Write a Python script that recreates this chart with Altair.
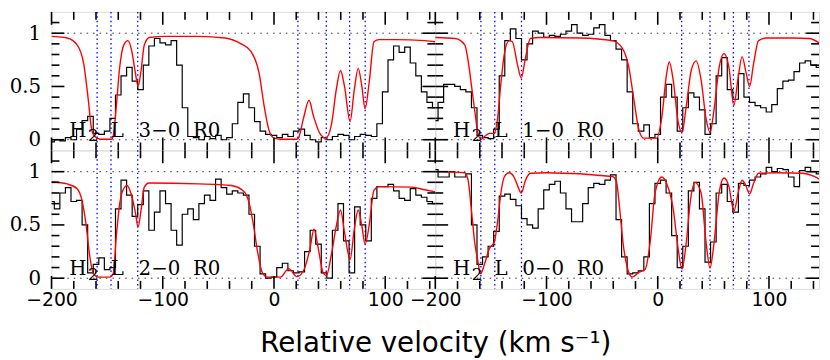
import altair as alt
import pandas as pd

# ---------------- data ----------------
VEL = [-200, -195, -190, -185, -180, -175, -170, -165, -160, -155,
       -150, -145, -140, -135, -130, -125, -120, -115, -110, -105,
       -100, -95, -90, -85, -80, -75, -70, -65, -60, -55,
       -50, -45, -40, -35, -30, -25, -20, -15, -10, -5,
       0, 5, 10, 15, 20, 25, 30, 35, 40, 45,
       50, 55, 60, 65, 70, 75, 80, 85, 90, 95,
       100, 105, 110, 115, 120, 125, 130, 135, 140, 145]

TL_OBS = [-0.02, 0.0, -0.01, 0.02, 0.0, 0.1, 0.18, 0.22, 0.06, 0.05,
          0.08, 0.2, 0.42, 0.6, 0.68, 0.55, 0.47, 0.7, 0.88, 0.95,
          0.91, 0.89, 0.93, 0.7, 0.3, 0.03, 0.02, 0.0, 0.03, 0.01,
          0.04, 0.0, 0.02, 0.15, 0.35, 0.43, 0.3, 0.17, 0.08, 0.05,
          0.04, 0.02, 0.05, 0.03, 0.08, 0.1, 0.04, 0.0, -0.02, 0.02,
          0.0, 0.03, 0.05, 0.04, 0.0, 0.03, 0.05, 0.04, 0.03, 0.15,
          0.45, 0.75, 0.88, 0.82, 0.87, 0.72, 0.6, 0.45, 0.35, 0.3]

TR_OBS = [0.18, 0.35, 0.52, 0.52, 0.5, 0.47, 0.45, 0.3, 0.04, 0.02,
          0.01, 0.1, 0.6, 0.93, 1.04, 0.95, 0.75, 0.9, 1.02, 1.0,
          0.96, 0.98, 0.97, 0.99, 1.02, 1.08, 1.0, 0.98, 0.99, 1.05,
          1.08, 0.98, 0.93, 0.85, 0.75, 0.45, 0.15, 0.08, 0.14, 0.02,
          0.05, 0.4, 0.52, 0.4, 0.08, 0.3, 0.44, 0.4, 0.28, 0.05,
          0.15, 0.6, 0.77, 0.47, 0.38, 0.62, 0.4, 0.35, 0.32, 0.3,
          0.26, 0.33, 0.48, 0.55, 0.56, 0.64, 0.72, 0.74, 0.7, 0.68]

BL_OBS = [0.72, 0.65, 0.8, 0.85, 0.72, 0.73, 0.5, 0.05, 0.13, 0.19,
          0.08, 0.1, 0.65, 0.92, 0.78, 0.58, 0.69, 0.82, 0.45, 0.62,
          0.82, 0.7, 0.45, 0.31, 0.6, 0.65, 0.55, 0.7, 0.78, 0.73,
          0.93, 0.85, 0.79, 0.82, 0.8, 0.78, 0.6, 0.3, 0.04, 0.0,
          0.01, 0.1, 0.14, 0.07, 0.05, 0.06, 0.25, 0.45, 0.32, 0.05,
          0.0, 0.45, 0.7, 0.35, 0.05, 0.67, 0.5, 0.35, 0.75, 0.86,
          0.86, 0.88, 0.82, 0.75, 0.73, 0.84, 0.78, 0.76, 0.72, 0.7]

BR_OBS = [1.02, 0.95, 0.95, 1.0, 0.95, 0.95, 0.98, 0.5, 0.13, 0.2,
          0.3, 0.44, 0.77, 0.79, 0.74, 0.68, 0.56, 0.5, 0.47, 0.65,
          0.83, 0.88, 0.91, 0.8, 0.65, 0.53, 0.53, 0.7, 0.85, 0.89,
          0.88, 0.92, 0.97, 0.55, 0.2, 0.04, 0.05, 0.07, 0.2, 0.7,
          0.89, 0.92, 0.8, 0.4, 0.1, 0.3, 0.82, 0.9, 0.65, 0.15,
          0.34, 0.8, 0.88, 0.72, 0.62, 0.89, 0.87, 0.92, 0.95, 0.98,
          1.04, 1.0, 1.03, 1.02, 0.95, 0.86, 1.01, 1.04, 1.0, 0.98]

TL_MV = [-200, -186, -177, -171, -167, -164, -161, -156, -146, -144.6, -141.7, -138.7, -135,
         -131.3, -127.8, -124.5, -122.2, -119.5, -116.6, -112, -97, -68, -44, -29.6, -20.7,
         -13.3, -8.9, -4.5, 0, 6, 20.6, 22, 26.5, 31.5, 35.3, 41.2, 46.5, 51.6, 56, 59.8,
         63.4, 68.4, 72.2, 75.7, 79, 81.9, 85.5, 89.9, 94.3, 109, 135.6, 145]
TL_MF = [0.97, 0.955, 0.89, 0.71, 0.38, 0.1, 0.03, 0.005, 0.005, 0.03, 0.32, 0.68, 0.89,
         0.93, 0.83, 0.62, 0.5, 0.65, 0.89, 0.96, 0.97, 0.97, 0.955, 0.9, 0.83,
         0.62, 0.32, 0.09, 0.015, 0.005, 0.005, 0.015, 0.2, 0.37, 0.23, 0.06, 0.015, 0.14, 0.47, 0.65,
         0.5, 0.17, 0.47, 0.67, 0.5, 0.29, 0.53, 0.92, 0.94, 0.94, 0.93, 0.92]

TR_MV = [-200, -182, -173.5, -170, -167, -164, -161.7, -158.7, -155.8, -151.3, -146.9, -144,
         -141, -138, -133.6, -130.7, -126.2, -122.7, -118.9, -114.5, -105.6, -70, -40.7, -31.9,
         -26, -21.5, -17.1, -12.7, -0.9, 3.5, 8, 10.3, 13.9, 18.3, 21.8, 25.7, 30.1, 34.5, 39,
         43.4, 47, 50.7, 55.2, 59.6, 64, 68.4, 72, 75.8, 79.6, 82.6, 86.1, 90.6, 97.9, 121.5,
         136.3, 145]
TR_MF = [0.96, 0.95, 0.89, 0.71, 0.47, 0.23, 0.06, 0.005, 0.03, 0.06, 0.06, 0.2,
         0.53, 0.8, 0.93, 0.92, 0.71, 0.58, 0.77, 0.95, 0.96, 0.955, 0.93, 0.86,
         0.68, 0.38, 0.1, 0.015, 0.015, 0.2, 0.62, 0.73, 0.56, 0.17, 0.07, 0.32, 0.65, 0.74, 0.56,
         0.2, 0.07, 0.29, 0.68, 0.81, 0.68, 0.32, 0.56, 0.78, 0.62, 0.5, 0.71, 0.93, 0.955, 0.955,
         0.95, 0.91]

BL_MV = [-200, -186, -177, -172.6, -168.8, -165.8, -162.3, -157.9, -147.6, -144.6, -141.7,
         -138.7, -135.2, -132.2, -128.4, -124.5, -122.2, -119.5, -116.6, -112.2, -68, -38.4,
         -26.6, -22.2, -18.3, -14.8, -10.4, -5.9, 5.8, 13.2, 20.6, 26.5, 32.4, 35.9, 39.8, 44.2,
         47.1, 51.6, 56, 59.8, 63.4, 68.4, 72.2, 75.7, 79, 81.9, 85.5, 89.9, 94.3, 123.8, 135.6, 145]
BL_MF = [0.906, 0.885, 0.84, 0.73, 0.49, 0.22, 0.04, 0.01, 0.01, 0.04, 0.4,
         0.7, 0.84, 0.87, 0.79, 0.61, 0.48, 0.64, 0.855, 0.894, 0.885, 0.87,
         0.81, 0.7, 0.49, 0.25, 0.05, 0.01, 0.01, 0.09, 0.015, 0.07, 0.28, 0.46, 0.28, 0.05,
         0.025, 0.22, 0.49, 0.64, 0.43, 0.175, 0.46, 0.64, 0.49, 0.32, 0.49, 0.825, 0.86, 0.855, 0.83, 0.81]

BR_MV = [-200, -173.5, -170.5, -167.6, -164.6, -161.7, -159.3, -155.8, -151.3, -146.9, -144,
         -141, -138, -133.6, -129.2, -125.7, -122.7, -118.9, -114.5, -99.7, -40.7, -37.2, -34.2,
         -31.3, -27.4, -23, -17.1, -11.2, -6.8, -2.4, 3.5, 8, 13.9, 18.3, 21.8, 25.7, 29.5, 33.6,
         39, 43.4, 47, 50.7, 55.2, 59.6, 64, 68.4, 72.9, 75.8, 78.8, 82.6, 86.1, 90.6, 106.8,
         130.4, 140.7, 145]
BR_MF = [1.0, 0.99, 0.92, 0.65, 0.34, 0.16, 0.04, 0.13, 0.28, 0.34, 0.53,
         0.8, 0.95, 0.99, 0.95, 0.86, 0.8, 0.92, 0.985, 0.99, 0.955, 0.91, 0.65,
         0.34, 0.1, 0.01, 0.055, 0.085, 0.34, 0.8, 0.95, 0.89, 0.65, 0.28, 0.085, 0.34, 0.74, 0.9,
         0.8, 0.34, 0.095, 0.34, 0.8, 0.94, 0.86, 0.63, 0.83, 0.92, 0.88, 0.79, 0.89, 0.985, 0.99,
         0.985, 0.955, 0.93]

BLUE_V = [-159, -146.5, -122.5, 21.5, 47, 68, 82]
HLINES = [0, 1]
X_MAJOR = [-200, -100, 0, 100]
X_MINOR = [-180, -160, -140, -120, -80, -60, -40, -20, 20, 40, 60, 80, 120, 140]
Y_MAJOR = [0, 0.5, 1]
Y_MINOR = [0.1, 0.2, 0.3, 0.4, 0.6, 0.7, 0.8, 0.9, 1.1]
BANDS = ["3\u22120", "1\u22120", "2\u22120", "0\u22120"]
XTITLE = "Relative velocity (km s\u207b\u00b9)"

# ---------------- layout ----------------
W, H = 388, 140
XDOM = [-200, 145]
YDOM = [-0.1, 1.2]
MAJ, MIN = 13, 8


def panel(obs, mv, mf, band, left, bottom):
    xscale = alt.Scale(domain=XDOM, nice=False, zero=False)
    yscale = alt.Scale(domain=YDOM, nice=False, zero=False)
    if bottom:
        xaxis = alt.Axis(values=X_MAJOR, format="d", ticks=False, domain=False, grid=False,
                         labelFont="DejaVu Sans", labelFontSize=19, labelColor="black",
                         labelPadding=2, labelFlush=False, labelOverlap=False,
                         titleFont="DejaVu Sans", titleFontSize=28, titleFontWeight="normal",
                         titleColor="black", titleX=W, titleY=63, titleAlign="center",
                         titleBaseline="alphabetic")
        xtitle = XTITLE if left else ""
    else:
        xaxis = None
        xtitle = ""
    if left:
        yaxis = alt.Axis(values=Y_MAJOR, format="~g", ticks=False, domain=False, grid=False,
                         labelFont="DejaVu Serif", labelFontSize=20, labelColor="black",
                         labelPadding=11, labelFlush=False, labelOverlap=False)
    else:
        yaxis = None

    def xe(f):
        return alt.X(f"{f}:Q", scale=xscale, axis=xaxis, title=xtitle)

    def ye(f):
        return alt.Y(f"{f}:Q", scale=yscale, axis=yaxis, title=None)

    layers = []
    layers.append(alt.Chart(pd.DataFrame({"h": HLINES})).mark_rule(
        color="#333333", strokeWidth=1, strokeDash=[1.5, 5]).encode(y=ye("h")))
    layers.append(alt.Chart(pd.DataFrame({"b": BLUE_V})).mark_rule(
        color="#0000ff", strokeWidth=1.3, strokeDash=[1.5, 3]).encode(x=xe("b")))
    layers.append(alt.Chart(pd.DataFrame({"v": VEL, "f": obs})).mark_line(
        color="black", strokeWidth=1.2, interpolate="step", clip=True).encode(x=xe("v"), y=ye("f")))
    layers.append(alt.Chart(pd.DataFrame({"v": mv, "f": mf})).mark_line(
        color="#ff0000", strokeWidth=1.4, interpolate="monotone", clip=True).encode(x=xe("v"), y=ye("f")))

    for vals, ln in ((X_MAJOR, MAJ), (X_MINOR, MIN)):
        d = pd.DataFrame({"t": vals})
        layers.append(alt.Chart(d).mark_rule(color="black", strokeWidth=1.6).encode(
            x=xe("t"), y=alt.value(H), y2=alt.value(H - ln)))
        layers.append(alt.Chart(d).mark_rule(color="black", strokeWidth=1.6).encode(
            x=xe("t"), y=alt.value(0), y2=alt.value(ln)))
    for vals, ln in ((Y_MAJOR, MAJ), (Y_MINOR, MIN)):
        d = pd.DataFrame({"t": vals})
        layers.append(alt.Chart(d).mark_rule(color="black", strokeWidth=1.6).encode(
            y=ye("t"), x=alt.value(0), x2=alt.value(ln)))
        layers.append(alt.Chart(d).mark_rule(color="black", strokeWidth=1.6).encode(
            y=ye("t"), x=alt.value(W), x2=alt.value(W - ln)))

    base_y = H - 14
    pieces = [("H", 18, base_y, 20), ("2", 37, base_y + 5, 17), ("L", 60, base_y, 20),
              (band, 88, base_y, 20), ("R0", 143, base_y, 20)]
    for txt, px, py, fs in pieces:
        layers.append(alt.Chart(pd.DataFrame({"s": [txt]})).mark_text(
            font="DejaVu Serif", fontSize=fs, color="black", align="left",
            baseline="alphabetic").encode(text="s:N", x=alt.value(px), y=alt.value(py)))

    return alt.layer(*layers).properties(width=W, height=H)


tl = panel(TL_OBS, TL_MV, TL_MF, BANDS[0], True, False)
tr = panel(TR_OBS, TR_MV, TR_MF, BANDS[1], False, False)
bl = panel(BL_OBS, BL_MV, BL_MF, BANDS[2], True, True)
br = panel(BR_OBS, BR_MV, BR_MF, BANDS[3], False, True)

chart = alt.concat(tl, tr, bl, br, columns=2, spacing=0, bounds="flush").properties(
    padding={"left": 0, "top": 0, "right": 1, "bottom": 0}
).configure_view(stroke="black", strokeWidth=2).configure(background="white")

chart.save("out.html", embed_options={"renderer": "svg", "actions": False})
